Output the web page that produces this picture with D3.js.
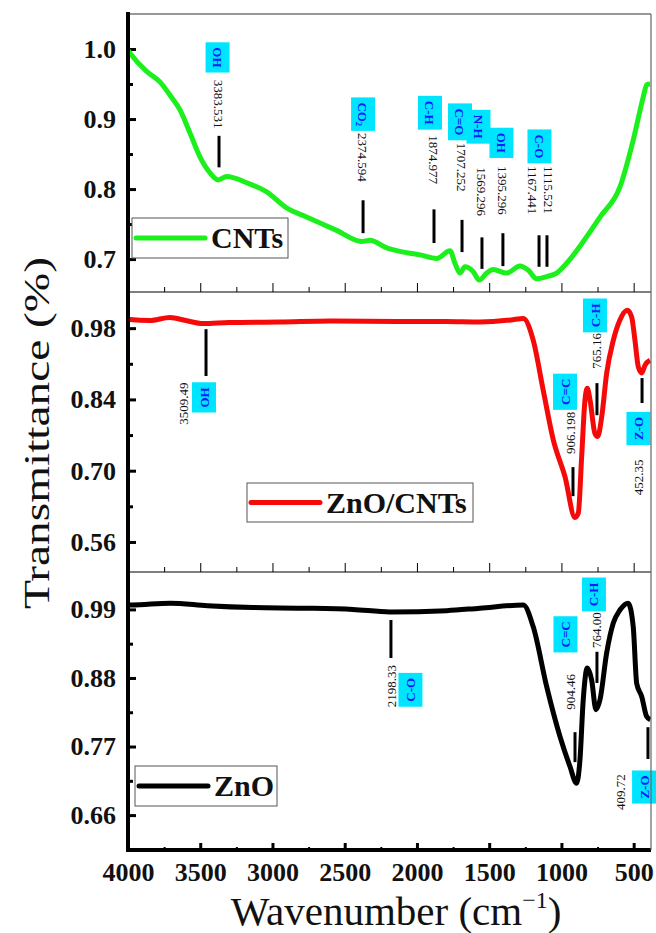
<!doctype html>
<html lang="en">
<head>
<meta charset="utf-8">
<title>FTIR spectra</title>
<script src="https://cdnjs.cloudflare.com/ajax/libs/d3/7.8.5/d3.min.js"></script>
<style>
  body { margin: 0; background: #fff; }
  svg { display: block; font-family: "Liberation Serif", "Times New Roman", serif; }
</style>
</head>
<body>
<div id="chart"></div>
<script>
// x axis ticks (wavenumber, cm-1)
const xTicks = [4000, 3500, 3000, 2500, 2000, 1500, 1000, 500];
const xMinor = [3750, 3250, 2750, 2250, 1750, 1250, 750];

// CNTs spectrum
const cntsWn = [4000, 3986, 3871, 3779, 3709, 3640, 3571, 3502, 3432, 3375, 3317, 3178, 3040, 2902, 2764, 2556, 2383, 2325, 2209, 2117, 1979, 1863, 1771, 1737, 1702, 1668, 1610, 1569, 1517, 1472, 1379, 1287, 1229, 1171, 1102, 1033, 964, 825, 733, 595, 503, 433, 410, 387];
const cntsT = [0.998, 0.994, 0.968, 0.953, 0.934, 0.913, 0.880, 0.846, 0.823, 0.813, 0.818, 0.809, 0.796, 0.773, 0.760, 0.741, 0.725, 0.727, 0.716, 0.711, 0.706, 0.701, 0.712, 0.694, 0.680, 0.689, 0.682, 0.670, 0.680, 0.685, 0.680, 0.690, 0.684, 0.672, 0.675, 0.680, 0.694, 0.732, 0.760, 0.803, 0.870, 0.932, 0.949, 0.950];
const cntsTicks = [0.7, 0.8, 0.9, 1.0];
const cntsMinor = [0.75, 0.85, 0.95];

// ZnO/CNTs spectrum
const znoCntsWn = [4000, 3986, 3850, 3709, 3600, 3481, 3300, 2948, 2600, 2117, 1800, 1564, 1350, 1264, 1195, 1126, 1056, 975, 906, 883, 860, 837, 821, 802, 768, 749, 721, 687, 641, 595, 544, 514, 491, 468, 444, 422, 387];
const znoCntsT = [0.998, 0.997, 0.995, 1.001, 0.995, 0.989, 0.991, 0.992, 0.994, 0.993, 0.993, 0.992, 0.996, 0.999, 0.956, 0.858, 0.760, 0.688, 0.608, 0.617, 0.727, 0.839, 0.862, 0.839, 0.773, 0.767, 0.806, 0.891, 0.956, 0.996, 1.015, 1.002, 0.956, 0.904, 0.892, 0.907, 0.917];
const znoCntsTicks = [0.56, 0.70, 0.84, 0.98];
const znoCntsMinor = [0.63, 0.77, 0.91];

// ZnO spectrum
const znoWn = [4000, 3974, 3709, 3450, 3135, 2800, 2443, 2187, 1794, 1564, 1264, 1195, 1102, 1010, 941, 895, 872, 849, 821, 791, 761, 733, 687, 641, 595, 538, 503, 479, 444, 410, 385];
const znoT = [0.997, 0.997, 1.0, 0.996, 0.993, 0.992, 0.990, 0.986, 0.988, 0.992, 0.997, 0.962, 0.866, 0.786, 0.738, 0.711, 0.748, 0.845, 0.896, 0.877, 0.829, 0.845, 0.920, 0.968, 0.989, 1.0, 0.962, 0.871, 0.850, 0.818, 0.813];
const znoTicks = [0.66, 0.77, 0.88, 0.99];
const znoMinor = [0.715, 0.825, 0.935];

// peak marks: bar at wn spanning bar[] transmittance, number label at lab, group box at box
const cntsNotes = [
  {wn: 3370, text: "3383.531", group: "OH", bar: [0.876, 0.831], lab: [3370, 0.956], box: [3380, 0.988]},
  {wn: 2373, text: "2374.594", group: "CO2", bar: [0.784, 0.737], lab: [2373, 0.880], box: [2373, 0.907]},
  {wn: 1882, text: "1874.977", group: "C-H", bar: [0.771, 0.723], lab: [1882, 0.877], box: [1910, 0.909]},
  {wn: 1688, text: "1707.252", group: "C=O", bar: [0.756, 0.710], lab: [1688, 0.866], box: [1702, 0.896]},
  {wn: 1550, text: "1569.296", group: "N-H", bar: [0.731, 0.686], lab: [1550, 0.831], box: [1574, 0.889]},
  {wn: 1405, text: "1395.296", group: "OH", bar: [0.737, 0.690], lab: [1405, 0.833], box: [1415, 0.866]},
  {wn: 1155, text: "1167.441", group: "C-O", bar: [0.734, 0.689], lab: [1197, 0.833], box: [1152, 0.861]},
  {wn: 1100, text: "1115.521", group: null, bar: [0.734, 0.689], lab: [1092, 0.833], box: null}
];
const znoCntsNotes = [
  {wn: 3460, text: "3509.49", group: "OH", bar: [0.978, 0.886], lab: [3619, 0.790], box: [3474, 0.844]},
  {wn: 920, text: "906.198", group: "C=C", bar: [0.707, 0.650], lab: [941, 0.733], box: [975, 0.855]},
  {wn: 754, text: "765.16", group: "C-H", bar: [0.872, 0.809], lab: [761, 0.900], box: [768, 1.005]},
  {wn: 442, text: "452.35", group: "Z-O", bar: [0.882, 0.833], lab: [470, 0.652], box: [467, 0.783]}
];
const znoNotes = [
  {wn: 2180, text: "2198.33", group: "C-O", bar: [0.973, 0.912], lab: [2180, 0.833], box: [2045, 0.861]},
  {wn: 906, text: "904.46", group: "C=C", bar: [0.793, 0.745], lab: [941, 0.829], box: [972, 0.950]},
  {wn: 754, text: "764.00", group: "C-H", bar: [0.922, 0.872], lab: [761, 0.928], box: [775, 1.014]},
  {wn: 401, text: "409.72", group: "Z-O", bar: [0.801, 0.750], lab: [595, 0.668], box: [428, 0.705]}
];

var width = 656, height = 933;
var left = 128, right = 651;

var panels = [
  {name: "CNTs", wn: cntsWn, t: cntsT, ticks: cntsTicks, minor: cntsMinor, notes: cntsNotes, fmt: ".1f",
   color: "#1cf01c", top: 14, bottom: 292, domain: [0.653, 1.05], rot: 90,
   legend: {x: 132, y: 218, w: 156, h: 40}},
  {name: "ZnO/CNTs", wn: znoCntsWn, t: znoCntsT, ticks: znoCntsTicks, minor: znoCntsMinor, notes: znoCntsNotes, fmt: ".2f",
   color: "#f50a0a", top: 292, bottom: 572, domain: [0.501, 1.051], rot: -90,
   legend: {x: 247, y: 483, w: 226, h: 39}},
  {name: "ZnO", wn: znoWn, t: znoT, ticks: znoTicks, minor: znoMinor, notes: znoNotes, fmt: ".2f",
   color: "#000", top: 572, bottom: 850, domain: [0.604, 1.05], rot: -90,
   legend: {x: 135, y: 766, w: 142, h: 40}}
];

var svg = d3.select("#chart").append("svg")
    .attr("width", width)
    .attr("height", height);

var x = d3.scaleLinear().domain([4000, 380]).range([left, right]);

panels.forEach(function(p, i) {
    var last = i === panels.length - 1;
    var y = d3.scaleLinear().domain(p.domain).range([p.bottom, p.top]);
    var g = svg.append("g");

    g.append("clipPath").attr("id", "clip" + i)
      .append("rect")
        .attr("x", left).attr("y", p.top)
        .attr("width", right - left).attr("height", p.bottom - p.top);

    // x ticks along the bottom of each panel, pointing inward
    var xMaj = g.append("g")
        .attr("transform", "translate(0," + p.bottom + ")")
        .call(d3.axisBottom(x).tickValues(xTicks).tickSize(last ? -7 : -9).tickPadding(13)
              .tickFormat(last ? d3.format("d") : ""));
    xMaj.select(".domain").remove();
    xMaj.selectAll("line").attr("stroke-width", last ? 3 : 1);
    var xMin = g.append("g")
        .attr("transform", "translate(0," + p.bottom + ")")
        .call(d3.axisBottom(x).tickValues(xMinor).tickSize(last ? -3 : -5).tickFormat(""));
    xMin.select(".domain").remove();
    xMin.selectAll("line").attr("stroke-width", last ? 2 : 1);

    // y ticks
    var yMaj = g.append("g")
        .attr("transform", "translate(" + left + ",0)")
        .call(d3.axisLeft(y).tickValues(p.ticks).tickSize(-8).tickPadding(12).tickFormat(d3.format(p.fmt)));
    yMaj.select(".domain").remove();
    yMaj.selectAll("line").attr("stroke-width", 3);
    var yMin = g.append("g")
        .attr("transform", "translate(" + left + ",0)")
        .call(d3.axisLeft(y).tickValues(p.minor).tickSize(-5).tickFormat(""));
    yMin.select(".domain").remove();
    yMin.selectAll("line").attr("stroke-width", 3);

    g.selectAll(".tick text")
        .attr("font-family", "Liberation Serif, serif")
        .attr("font-weight", "bold")
        .attr("font-size", 26)
        .attr("fill", "#111");

    // separator line at the bottom of the panel
    g.append("line")
        .attr("x1", left).attr("x2", right)
        .attr("y1", p.bottom).attr("y2", p.bottom)
        .attr("stroke", "#000")
        .attr("stroke-width", last ? 4 : 1.2);

    // spectrum
    var line = d3.line()
        .x(function(d, k) { return x(p.wn[k]); })
        .y(function(d) { return y(d); })
        .curve(d3.curveMonotoneX);
    g.append("path")
        .datum(p.t)
        .attr("clip-path", "url(#clip" + i + ")")
        .attr("fill", "none")
        .attr("stroke", p.color)
        .attr("stroke-width", 5)
        .attr("stroke-linejoin", "round")
        .attr("d", line);

    // peak marks
    var ann = g.append("g");
    p.notes.forEach(function(n) {
        ann.append("line")
            .attr("x1", x(n.wn)).attr("x2", x(n.wn))
            .attr("y1", y(n.bar[0])).attr("y2", y(n.bar[1]))
            .attr("stroke", "#000").attr("stroke-width", 3);
        ann.append("text")
            .attr("transform", "translate(" + x(n.lab[0]) + "," + y(n.lab[1]) + ") rotate(" + p.rot + ")")
            .attr("dy", "0.35em")
            .attr("font-size", 13)
            .attr("fill", "#111")
            .text(n.text);
        if (n.group) {
            var bx = x(n.box[0]), by = y(n.box[1]);
            var bg = ann.append("g")
                .attr("transform", "translate(" + bx + "," + by + ") rotate(" + p.rot + ")");
            var rect = bg.append("rect").attr("fill", "#00e5ff");
            var t = bg.append("text")
                .attr("text-anchor", "middle")
                .attr("dy", "0.35em")
                .attr("font-size", 13)
                .attr("font-weight", "bold")
                .attr("fill", "#0a1aff");
            if (n.group === "CO2") {
                t.append("tspan").text("CO");
                t.append("tspan").attr("font-size", 8).attr("dy", "0.3em").text("2");
            } else {
                t.text(n.group);
            }
            var len = t.node().getComputedTextLength();
            rect.attr("x", -len / 2 - 5).attr("y", -12)
                .attr("width", len + 10).attr("height", 24);
        }
    });

    // legend
    var L = p.legend;
    g.append("rect")
        .attr("x", L.x).attr("y", L.y)
        .attr("width", L.w).attr("height", L.h)
        .attr("fill", "#fff").attr("stroke", "#555").attr("stroke-width", 1);
    g.append("line")
        .attr("x1", L.x + 4).attr("x2", L.x + 73)
        .attr("y1", L.y + L.h / 2).attr("y2", L.y + L.h / 2)
        .attr("stroke", p.color).attr("stroke-width", 5).attr("stroke-linecap", "round");
    g.append("text")
        .attr("x", L.x + 79).attr("y", L.y + L.h / 2 + 10)
        .attr("font-size", 30).attr("font-weight", "bold").attr("fill", "#111")
        .text(p.name);
});

// frame
svg.append("line")
    .attr("x1", left).attr("x2", right).attr("y1", 14).attr("y2", 14)
    .attr("stroke", "#333").attr("stroke-width", 1.2);
svg.append("line")
    .attr("x1", right).attr("x2", right).attr("y1", 14).attr("y2", 850)
    .attr("stroke", "#666").attr("stroke-width", 1.2);
svg.append("line")
    .attr("x1", left).attr("x2", left).attr("y1", 12).attr("y2", 852)
    .attr("stroke", "#000").attr("stroke-width", 4);

// axis titles
svg.append("text")
    .attr("transform", "translate(49,433) rotate(-90)")
    .attr("text-anchor", "middle")
    .attr("font-size", 36)
    .attr("fill", "#111")
    .attr("textLength", 352)
    .attr("lengthAdjust", "spacingAndGlyphs")
    .text("Transmittance (%)");

var xt = svg.append("text")
    .attr("x", 396).attr("y", 925)
    .attr("text-anchor", "middle")
    .attr("font-size", 41)
    .attr("fill", "#111");
xt.append("tspan").text("Wavenumber (cm");
xt.append("tspan").attr("font-size", 24).attr("dy", -17).text("\u22121");
xt.append("tspan").attr("dy", 17).text(")");
</script>
</body>
</html>
